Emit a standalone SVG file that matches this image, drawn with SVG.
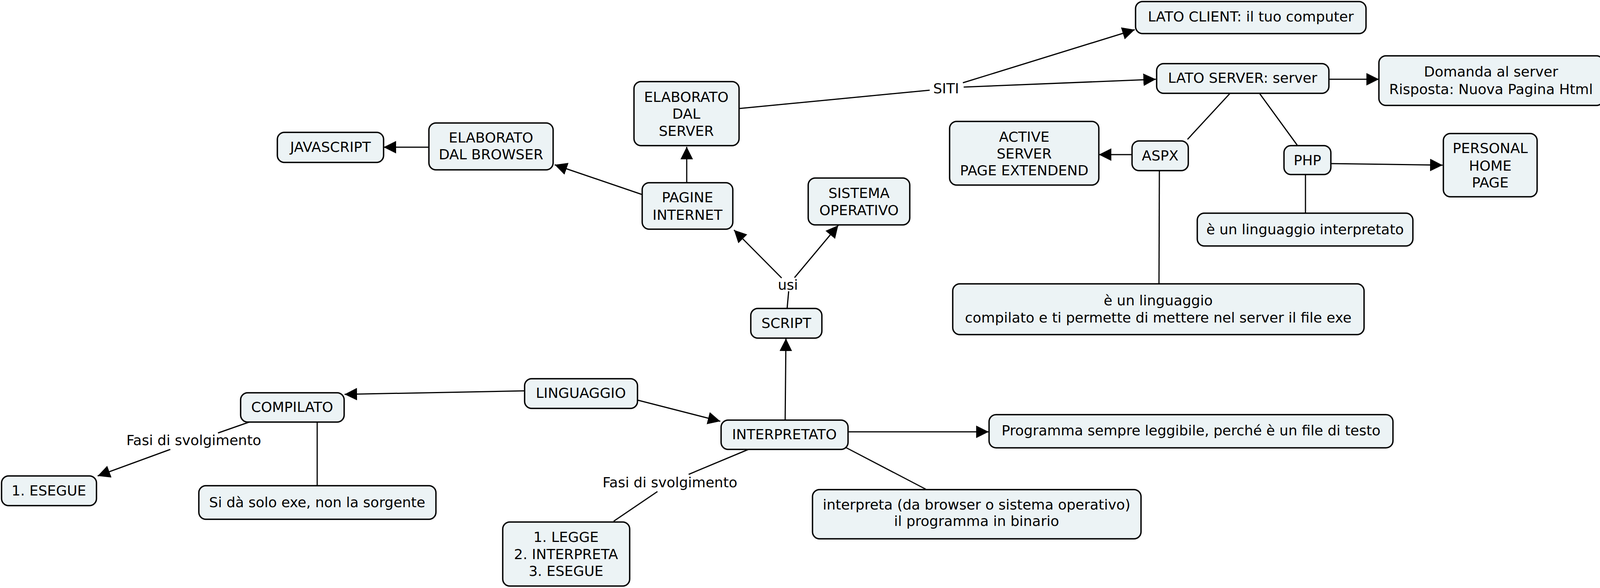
<svg xmlns="http://www.w3.org/2000/svg" width="4112" height="1506" viewBox="0 0 4112 1506">
<style>
.n rect{fill:#ecf3f5;stroke:#000;stroke-width:3.5}
text{font-family:"DejaVu Sans",Verdana,sans-serif;font-size:36px;fill:#000;text-anchor:middle}
.c line{stroke:#000;stroke-width:3;fill:none}
.a{marker-end:url(#ah)}
</style>
<defs>
<marker id="ah" markerUnits="userSpaceOnUse" markerWidth="32" markerHeight="32" refX="32" refY="16" orient="auto" viewBox="0 0 32 32">
<path d="M0,0 L32,16 L0,32 z" fill="#000"/>
</marker>
</defs>
<rect width="4112" height="1506" fill="#fff"/>
<g id="connectors" class="c">
<line class="a" x1="1098" y1="377" x2="982" y2="377"/>
<line class="a" x1="1643" y1="498" x2="1420" y2="422"/>
<line class="a" x1="1758" y1="468" x2="1758" y2="376"/>
<line x1="1892" y1="278" x2="2380" y2="231"/>
<line class="a" x1="2465" y1="212" x2="2905" y2="76"/>
<line class="a" x1="2467" y1="223" x2="2959" y2="203"/>
<line class="a" x1="3402" y1="203" x2="3530" y2="203"/>
<line x1="3148" y1="240" x2="3040" y2="357"/>
<line x1="3225" y1="240" x2="3321" y2="372"/>
<line class="a" x1="2898" y1="396" x2="2813" y2="396"/>
<line x1="2968" y1="437" x2="2967" y2="727"/>
<line class="a" x1="3407" y1="419" x2="3693" y2="423"/>
<line x1="3342" y1="447" x2="3342" y2="546"/>
<line class="a" x1="2001" y1="712" x2="1879" y2="589"/>
<line class="a" x1="2034" y1="711" x2="2146" y2="577"/>
<line x1="2015" y1="790" x2="2019" y2="746"/>
<line class="a" x1="2010" y1="1076" x2="2012" y2="867"/>
<line class="a" x1="1343" y1="1001" x2="882" y2="1010"/>
<line class="a" x1="1633" y1="1025" x2="1844" y2="1079"/>
<line class="a" x1="2171" y1="1106" x2="2531" y2="1106"/>
<line x1="2165" y1="1146" x2="2370" y2="1253"/>
<line x1="1916" y1="1151" x2="1763" y2="1215"/>
<line x1="1683" y1="1259" x2="1571" y2="1335"/>
<line x1="638" y1="1081" x2="558" y2="1109"/>
<line class="a" x1="436" y1="1151" x2="250" y2="1219"/>
<line x1="812" y1="1081" x2="812" y2="1244"/>
</g>
<g id="labels">
<text x="2422" y="239">SITI</text>
<text x="2017" y="742">usi</text>
<text x="496" y="1140">Fasi di svolgimento</text>
<text x="1715" y="1248">Fasi di svolgimento</text>
</g>
<g id="n-javascript" class="n"><rect x="710" y="339" width="272" height="77" rx="18"/><text x="846" y="389">JAVASCRIPT</text></g>
<g id="n-elab-browser" class="n"><rect x="1098" y="315" width="318" height="120" rx="18"/><text x="1257" y="365">ELABORATO</text><text x="1257" y="408">DAL BROWSER</text></g>
<g id="n-elab-server" class="n"><rect x="1623" y="209" width="269" height="164" rx="18"/><text x="1757" y="261">ELABORATO</text><text x="1757" y="304">DAL</text><text x="1757" y="348">SERVER</text></g>
<g id="n-pagine" class="n"><rect x="1644" y="468" width="232" height="119" rx="18"/><text x="1760" y="518">PAGINE</text><text x="1760" y="563">INTERNET</text></g>
<g id="n-sistema" class="n"><rect x="2069" y="456" width="260" height="120" rx="18"/><text x="2199" y="507">SISTEMA</text><text x="2199" y="551">OPERATIVO</text></g>
<g id="n-active" class="n"><rect x="2431" y="311" width="382" height="163" rx="18"/><text x="2622" y="363">ACTIVE</text><text x="2622" y="406">SERVER</text><text x="2622" y="449">PAGE EXTENDEND</text></g>
<g id="n-lato-client" class="n"><rect x="2907" y="4" width="590" height="82" rx="18"/><text x="3202" y="55">LATO CLIENT: il tuo computer</text></g>
<g id="n-lato-server" class="n"><rect x="2961" y="163" width="441" height="76" rx="18"/><text x="3181" y="212">LATO SERVER: server</text></g>
<g id="n-domanda" class="n"><rect x="3530" y="143" width="575" height="127" rx="18"/><text x="3817" y="196">Domanda al server</text><text x="3817" y="241">Risposta: Nuova Pagina Html</text></g>
<g id="n-aspx" class="n"><rect x="2898" y="361" width="144" height="76" rx="18"/><text x="2970" y="411">ASPX</text></g>
<g id="n-php" class="n"><rect x="3287" y="373" width="120" height="74" rx="18"/><text x="3347" y="423">PHP</text></g>
<g id="n-personal" class="n"><rect x="3695" y="342" width="240" height="162" rx="18"/><text x="3815" y="392">PERSONAL</text><text x="3815" y="437">HOME</text><text x="3815" y="480">PAGE</text></g>
<g id="n-php-interp" class="n"><rect x="3065" y="546" width="552" height="84" rx="18"/><text x="3341" y="600">è un linguaggio interpretato</text></g>
<g id="n-aspx-comp" class="n"><rect x="2439" y="727" width="1053" height="130" rx="18"/><text x="2965" y="782">è un linguaggio</text><text x="2965" y="826">compilato e ti permette di mettere nel server il file exe</text></g>
<g id="n-script" class="n"><rect x="1922" y="790" width="182" height="76" rx="18"/><text x="2013" y="840">SCRIPT</text></g>
<g id="n-linguaggio" class="n"><rect x="1343" y="970" width="289" height="76" rx="18"/><text x="1487" y="1019">LINGUAGGIO</text></g>
<g id="n-compilato" class="n"><rect x="616" y="1006" width="265" height="75" rx="18"/><text x="748" y="1055">COMPILATO</text></g>
<g id="n-interpretato" class="n"><rect x="1846" y="1076" width="325" height="75" rx="18"/><text x="2008" y="1125">INTERPRETATO</text></g>
<g id="n-programma" class="n"><rect x="2532" y="1062" width="1034" height="85" rx="18"/><text x="3049" y="1115">Programma sempre leggibile, perché è un file di testo</text></g>
<g id="n-interpreta" class="n"><rect x="2080" y="1254" width="841" height="126" rx="18"/><text x="2500" y="1305">interpreta (da browser o sistema operativo)</text><text x="2500" y="1347">il programma in binario</text></g>
<g id="n-legge" class="n"><rect x="1287" y="1337" width="325" height="164" rx="18"/><text x="1449" y="1388">1. LEGGE</text><text x="1449" y="1432">2. INTERPRETA</text><text x="1449" y="1475">3. ESEGUE</text></g>
<g id="n-sida" class="n"><rect x="509" y="1244" width="607" height="86" rx="18"/><text x="812" y="1299">Si dà solo exe, non la sorgente</text></g>
<g id="n-esegue" class="n"><rect x="4" y="1219" width="243" height="76" rx="18"/><text x="125" y="1269">1. ESEGUE</text></g>
</svg>
